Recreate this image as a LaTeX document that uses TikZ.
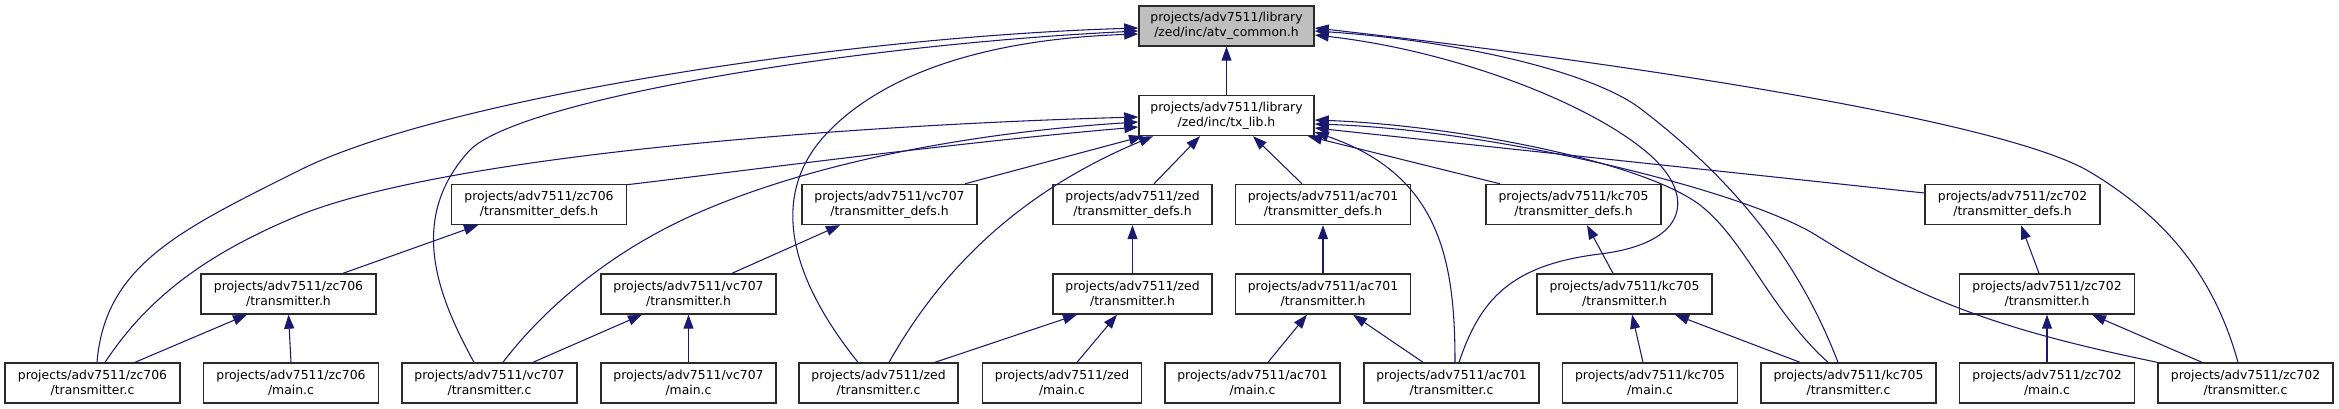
\documentclass[tikz,border=0pt]{standalone}
\usepackage{fontspec}
\setmainfont{DejaVu Sans}
\usetikzlibrary{arrows.meta,calc}
\definecolor{edgecol}{HTML}{191970}
\definecolor{boxborder}{HTML}{2A2A2A}
\definecolor{graybox}{HTML}{BFBFBF}
\begin{document}
\begin{tikzpicture}[x=0.75pt,y=-0.75pt,
  box/.style={draw=boxborder, line width=1.05pt, fill=white, minimum width=131.25pt, minimum height=30pt, inner sep=0pt, align=center, font=\fontsize{9.3pt}{11.5pt}\selectfont},
  zbox/.style={box, minimum width=119.25pt},
  conn/.style={draw=edgecol, line width=0.8pt, -{Triangle[length=10.5pt,width=7.5pt]}}]
\useasboundingbox (0,0) rectangle (2339,409);
% nodes
\node[box, fill=graybox] (atv) at (1226.5,26) {projects/adv7511/library\\/zed/inc/atv\_common.h};
\node[box] (txlib) at (1226.5,115.5) {projects/adv7511/library\\/zed/inc/tx\_lib.h};
% defs row
\node[box]  (d706) at (539,204.5)    {projects/adv7511/zc706\\/transmitter\_defs.h};
\node[box]  (d707) at (889.5,204.5)  {projects/adv7511/vc707\\/transmitter\_defs.h};
\node[zbox] (dzed) at (1132.5,204.5) {projects/adv7511/zed\\/transmitter\_defs.h};
\node[box]  (d701) at (1323,204.5)   {projects/adv7511/ac701\\/transmitter\_defs.h};
\node[box]  (d705) at (1573.5,204.5) {projects/adv7511/kc705\\/transmitter\_defs.h};
\node[box]  (d702) at (2012.5,204.5) {projects/adv7511/zc702\\/transmitter\_defs.h};
% header row
\node[box]  (h706) at (288.5,294)  {projects/adv7511/zc706\\/transmitter.h};
\node[box]  (h707) at (688.5,294)  {projects/adv7511/vc707\\/transmitter.h};
\node[zbox] (hzed) at (1132.5,294) {projects/adv7511/zed\\/transmitter.h};
\node[box]  (h701) at (1323,294)   {projects/adv7511/ac701\\/transmitter.h};
\node[box]  (h705) at (1624.5,294) {projects/adv7511/kc705\\/transmitter.h};
\node[box]  (h702) at (2047,294)   {projects/adv7511/zc702\\/transmitter.h};
% bottom row
\node[box]  (c706) at (92.5,383)   {projects/adv7511/zc706\\/transmitter.c};
\node[box]  (m706) at (291,383)    {projects/adv7511/zc706\\/main.c};
\node[box]  (c707) at (489.5,383)  {projects/adv7511/vc707\\/transmitter.c};
\node[box]  (m707) at (688.5,383)  {projects/adv7511/vc707\\/main.c};
\node[zbox] (czed) at (878.5,383)  {projects/adv7511/zed\\/transmitter.c};
\node[zbox] (mzed) at (1062,383)   {projects/adv7511/zed\\/main.c};
\node[box]  (m701) at (1252.5,383) {projects/adv7511/ac701\\/main.c};
\node[box]  (c701) at (1451.5,383) {projects/adv7511/ac701\\/transmitter.c};
\node[box]  (m705) at (1650,383)   {projects/adv7511/kc705\\/main.c};
\node[box]  (c705) at (1848.5,383) {projects/adv7511/kc705\\/transmitter.c};
\node[box]  (m702) at (2047,383)   {projects/adv7511/zc702\\/main.c};
\node[box]  (c702) at (2245.5,383) {projects/adv7511/zc702\\/transmitter.c};
% edges to atv_common.h
\draw[conn] (txlib.north) -- (atv.south);
\draw[conn] ($(c706.north)+(4.5,0)$) .. controls (105,265) and (180,230) .. (300,170) .. controls (440,100) and (839,37) .. ($(atv.west)+(0,2)$);
\draw[conn] ($(c707.north)+(-15.5,0)$) .. controls (440,300) and (405,220) .. (470,150) .. controls (520,100) and (850,45) .. ($(atv.west)+(0,5)$);
\draw[conn] ($(czed.north)+(-20.5,0)$) .. controls (800,290) and (760,200) .. (830,130) .. controls (900,60) and (1020,38) .. ($(atv.west)+(0,8)$);
\draw[conn] ($(c701.north)+(7.5,0)$) .. controls (1480,300) and (1510,265) .. (1600,254) .. controls (1690,243) and (1695,195) .. (1650,155) .. controls (1590,102) and (1450,50) .. ($(atv.east)+(0,9)$);
\draw[conn] ($(c705.north)+(-10.5,0)$) .. controls (1810,290) and (1760,200) .. (1641,109) .. controls (1590,70) and (1450,40) .. ($(atv.east)+(0,5)$);
\draw[conn] ($(c702.north)+(-7.5,0)$) .. controls (2215,280) and (2170,220) .. (2090,172) .. controls (2000,118) and (1600,60) .. ($(atv.east)+(0,2)$);
% edges to tx_lib.h
\draw[conn] ($(c706.north)+(12.5,0)$) .. controls (140,310) and (190,260) .. (300,215) .. controls (450,155) and (850,125) .. ($(txlib.west)+(0,1.5)$);
\draw[conn] ($(c707.north)+(13.5,0)$) .. controls (535,320) and (600,255) .. (700,212) .. controls (820,160) and (980,132) .. ($(txlib.west)+(0,6.5)$);
\draw[conn] ($(d706.north east)+(-1,1)$) .. controls (720,174) and (950,143) .. ($(txlib.west)+(0,11.5)$);
\draw[conn] ($(d707.north)+(75.5,0)$) -- ($(txlib.south)+(-83.5,0)$);
\draw[conn] ($(czed.north)+(10.5,0)$) .. controls (930,290) and (1000,200) .. ($(txlib.south)+(-73.5,0)$);
\draw[conn] ($(dzed.north)+(21.5,0)$) -- ($(txlib.south)+(-26.5,0)$);
\draw[conn] ($(d701.north)+(-21,0)$) -- ($(txlib.south)+(26.5,0)$);
\draw[conn] ($(d705.north)+(-73.5,0)$) -- ($(txlib.south)+(81.5,0)$);
\draw[conn] ($(d702.west)+(0,-11.5)$) -- ($(txlib.east)+(0,12.5)$);
\draw[conn] ($(c701.north)+(3.5,0)$) .. controls (1455,260) and (1440,175) .. ($(txlib.east)+(0,16.5)$);
\draw[conn] ($(c705.north)+(-20.5,0)$) .. controls (1770,310) and (1745,240) .. (1700,205) .. controls (1640,160) and (1450,125) .. ($(txlib.east)+(0,4.5)$);
\draw[conn] (c702.north west) .. controls (2000,330) and (1920,300) .. (1819,237) .. controls (1750,192) and (1500,130) .. ($(txlib.east)+(0,8.5)$);
% defs <- headers
\draw[conn] ($(h706.north)+(54.5,0)$) -- ($(d706.south)+(-61,0)$);
\draw[conn] ($(h707.north)+(43.5,0)$) -- ($(d707.south)+(-49.5,0)$);
\draw[conn] (hzed.north) -- (dzed.south);
\draw[conn] (h701.north) -- (d701.south);
\draw[conn] ($(h705.north)+(-11.5,0)$) -- ($(d705.south)+(13.5,0)$);
\draw[conn] ($(h702.north)+(-8,0)$) -- ($(d702.south)+(8.5,0)$);
% headers <- sources
\draw[conn] ($(c706.north)+(42.5,0)$) -- ($(h706.south)+(-41.5,0)$);
\draw[conn] (m706.north) -- (h706.south);
\draw[conn] ($(c707.north)+(43.5,0)$) -- ($(h707.south)+(-46.5,0)$);
\draw[conn] (m707.north) -- (h707.south);
\draw[conn] ($(czed.north)+(56.5,0)$) -- ($(hzed.south)+(-55.5,0)$);
\draw[conn] ($(mzed.north)+(15,0)$) -- ($(hzed.south)+(-15.5,0)$);
\draw[conn] ($(m701.north)+(15.5,0)$) -- ($(h701.south)+(-16,0)$);
\draw[conn] ($(c701.north)+(-28.5,0)$) -- ($(h701.south)+(30,0)$);
\draw[conn] ($(m705.north)+(-7,0)$) -- ($(h705.south)+(7.5,0)$);
\draw[conn] ($(c705.north)+(-48.5,0)$) -- ($(h705.south)+(50.5,0)$);
\draw[conn] (m702.north) -- (h702.south);
\draw[conn] ($(c702.north)+(-43.5,0)$) -- ($(h702.south)+(45,0)$);
\end{tikzpicture}
\end{document}
